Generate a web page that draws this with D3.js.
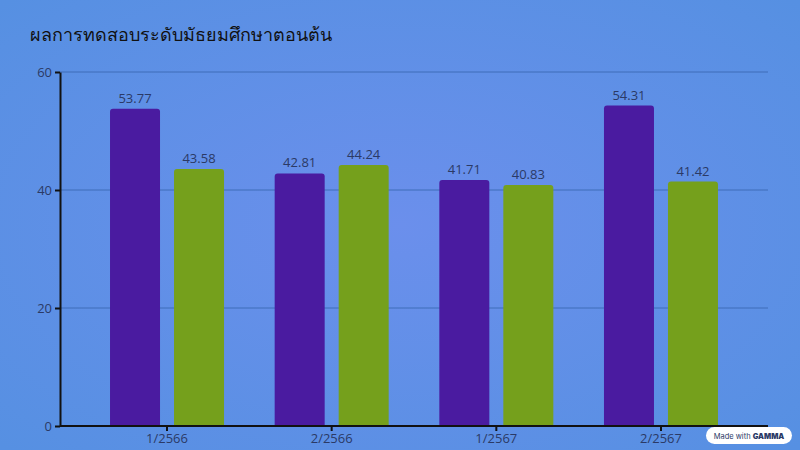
<!DOCTYPE html><html><head><meta charset="utf-8"><script src="https://cdn.jsdelivr.net/npm/d3@7"></script>
<style>body{margin:0}svg{display:block}</style></head><body><svg width="800" height="450"></svg>
<script>
const categories=["1/2566","2/2566","1/2567","2/2567"];
const seriesA=[53.77,42.81,41.71,54.31];
const seriesB=[43.58,44.24,40.83,41.42];
const yTicks=[0,20,40,60];
const svg=d3.select("svg");
const defs=svg.append("defs");
const g0=defs.append("radialGradient").attr("id","bg").attr("cx","50%").attr("cy","50%").attr("r","70%");
g0.append("stop").attr("offset","0%").attr("stop-color","#6b8fec");
g0.append("stop").attr("offset","100%").attr("stop-color","#5690e2");
svg.append("rect").attr("width",800).attr("height",450).attr("fill","url(#bg)");
const m={l:60,r:32,t:72,b:24};
const x=d3.scaleBand().domain(categories).range([60,768]).paddingInner(0.0).paddingOuter(0.15);
const y=d3.scaleLinear().domain([0,60]).range([426,72]);
svg.append("g").selectAll("line").data(yTicks.filter(d=>d>0)).join("line")
 .attr("x1",60).attr("x2",768).attr("y1",d=>y(d)).attr("y2",d=>y(d)).attr("stroke","#3f6cb8").attr("stroke-width",1);
svg.append("text").attr("x",30).attr("y",41).attr("font-family","Noto Sans, sans-serif").attr("font-size",18).attr("fill","#111").text("ผลการทดสอบระดับมัธยมศึกษาตอนต้น");
const bw=50,gap=14;
categories.forEach((c,i)=>{
 const cx=x(c)+x.bandwidth()/2;
 [[seriesA[i],"#4a1ba0",cx-gap/2-bw],[seriesB[i],"#75a01c",cx+gap/2]].forEach(([v,col,x0])=>{
  svg.append("path").attr("fill",col).attr("d",`M${x0},${y(0)}V${y(v)+3}q0,-3 3,-3h${bw-6}q3,0 3,3V${y(0)}Z`);
  svg.append("text").attr("x",x0+bw/2).attr("y",y(v)-6).attr("text-anchor","middle").attr("font-family","Open Sans, sans-serif").attr("font-size",13).attr("fill","#2b3a66").text(v.toFixed(2));
 });
});
const ya=svg.append("g").attr("transform","translate(60,0)").call(d3.axisLeft(y).tickValues(yTicks).tickSize(5).tickSizeOuter(0));
const xa=svg.append("g").attr("transform","translate(0,426)").call(d3.axisBottom(x).tickSize(5).tickSizeOuter(0));
[ya,xa].forEach(a=>{a.select(".domain").attr("stroke","#111").attr("stroke-width",2);a.selectAll(".tick line").attr("stroke","#111").attr("stroke-width",2);
 a.selectAll("text").attr("font-family","Open Sans, sans-serif").attr("font-size",13).attr("fill","#2b3a66");});
xa.select(".domain").attr("d","M60,0H768");
const b=svg.append("g").attr("transform","translate(706,427)");
b.append("rect").attr("width",86).attr("height",17).attr("rx",8.5).attr("fill","#fff");
b.append("text").attr("x",43).attr("y",12).attr("text-anchor","middle").attr("font-family","Inter, sans-serif").attr("font-size",7.5).attr("fill","#2b3a66").html('Made with <tspan font-weight="900">GAMMA</tspan>');
</script></body></html>
